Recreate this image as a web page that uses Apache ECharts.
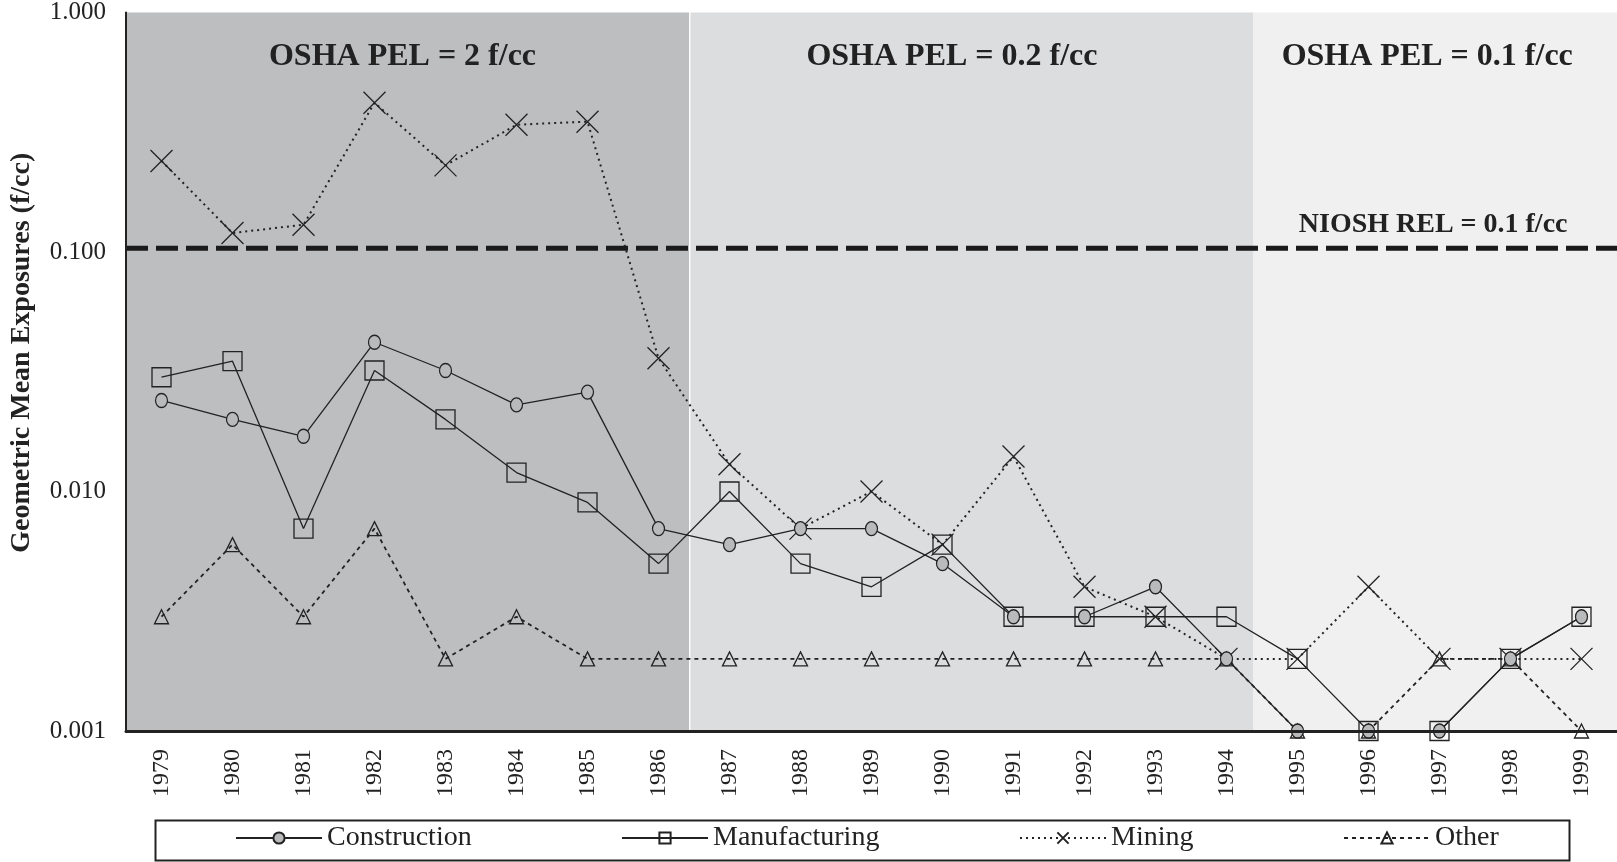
<!DOCTYPE html>
<html>
<head>
<meta charset="utf-8">
<script src="https://cdn.jsdelivr.net/npm/echarts@6/dist/echarts.min.js"></script>
<style>html,body{margin:0;padding:0;background:#fff;}#c{width:1617px;height:862px;}</style>
</head>
<body>
<div id="c"></div>
<script>
const years = ['1979','1980','1981','1982','1983','1984','1985','1986','1987','1988','1989','1990','1991','1992','1993','1994','1995','1996','1997','1998','1999'];
const construction = [0.024,0.020,0.017,0.042,0.032,0.023,0.026,0.007,0.006,0.007,0.007,0.005,0.003,0.003,0.004,0.002,0.001,0.001,0.001,0.002,0.003];
const manufacturing = [0.030,0.035,0.007,0.032,0.020,0.012,0.009,0.005,0.010,0.005,0.004,0.006,0.003,0.003,0.003,0.003,0.002,0.001,0.001,0.002,0.003];
const mining = [0.24,0.12,0.13,0.42,0.23,0.34,0.35,0.036,0.013,0.007,0.010,0.006,0.014,0.004,0.003,0.002,0.002,0.004,0.002,0.002,0.002];
const other = [0.003,0.006,0.003,0.007,0.002,0.003,0.002,0.002,0.002,0.002,0.002,0.002,0.002,0.002,0.002,0.002,0.001,0.001,0.002,0.002,0.001];
const yTicks = ['0.001','0.010','0.100','1.000'];
// regulatory periods, in category-index units (0 = left edge of 1979 slot)
const periodNames = ['OSHA PEL = 2 f/cc','OSHA PEL = 0.2 f/cc','OSHA PEL = 0.1 f/cc'];
const periodFrom = [0, 7.95, 15.88];
const periodTo = [7.93, 15.88, 21];
const nioshName = 'NIOSH REL = 0.1 f/cc';
const nioshValue = 0.1036;
const nioshSpan = [0, 21];

const SERIF = "'Liberation Serif','Times New Roman',serif";
const INK = '#222';
const periodColors = ['#bdbec0','#dcdddf','#f0f0f0'];
const periodOffsets = [-5,-20,-8];

const chart = echarts.init(document.getElementById('c'));

const areaData = periodNames.map((n,i)=>[
  {xAxis: periodFrom[i], name: n, itemStyle:{color: periodColors[i]},
   label:{show:true, position:'insideTop', offset:[periodOffsets[i], 23], formatter: n,
     fontFamily: SERIF, fontWeight:'bold', fontSize: 32, color: INK}},
  {xAxis: periodTo[i]}
]);

function legendAt(name, left){
  return {
    data:[name], left: left, top: 824, padding: 0,
    itemWidth: 86, itemHeight: 14,
    textStyle:{fontFamily: SERIF, fontSize: 28, color: INK},
    selectedMode: false
  };
}

const option = {
  backgroundColor: '#fff',
  animation: false,
  grid: {left: 124, right: 0, top: 12, bottom: 131, containLabel: false},
  xAxis: [
    {type:'category', data: years, boundaryGap: true, z: 10,
     axisLine:{show:true, lineStyle:{color: INK, width: 3}},
     axisTick:{show:false},
     axisLabel:{rotate: 90, margin: 18, fontFamily: SERIF, fontSize: 24, color: INK},
     splitLine:{show:false}},
    {type:'value', min: 0, max: 21, show: false}
  ],
  yAxis: {
    type:'log', logBase: 10, min: 0.001, max: 1, z: 10,
    name: 'Geometric Mean Exposures (f/cc)', nameLocation: 'middle', nameGap: 90,
    nameTextStyle:{fontFamily: SERIF, fontWeight:'bold', fontSize: 28, color: INK, padding:[0,0,0,38]},
    axisLine:{show:true, lineStyle:{color: INK, width: 2}},
    axisTick:{show:false},
    splitLine:{show:false},
    axisLabel:{margin: 20, fontFamily: SERIF, fontSize: 25, color: INK,
      formatter: v => yTicks.find(t => Math.abs(parseFloat(t) - v) < v*0.01) || v.toFixed(3)}
  },
  legend: [
    legendAt('Construction', 235),
    legendAt('Manufacturing', 621),
    legendAt('Mining', 1019),
    legendAt('Other', 1343)
  ],
  graphic: [
    {type:'rect', left: 153, top: 818, shape:{width: 1414, height: 40},
     style:{fill:'none', stroke: INK, lineWidth: 2}, z: 10}
  ],
  series: [
    {type:'line', xAxisIndex: 1, yAxisIndex: 0, data: [], z: 1, silent: true,
     markArea:{silent:true, data: areaData}},
    {name: nioshName, type:'line', xAxisIndex: 1, yAxisIndex: 0, z: 2, silent: true, clip: false,
     symbol:'circle', symbolSize: 1, showSymbol: true, showAllSymbol: true,
     itemStyle:{color:'rgba(0,0,0,0)', borderWidth: 0},
     lineStyle:{color:'#1a1a1a', width: 5, type:[22,8]},
     data: [
       [nioshSpan[0], nioshValue],
       {value:[nioshSpan[1], nioshValue],
        label:{show:true, position:'left', distance: 49, offset:[0,-24], formatter: nioshName,
          fontFamily: SERIF, fontWeight:'bold', fontSize: 28, color: INK}}
     ]},
    {name:'Construction', type:'line', data: construction, z: 6, clip: false,
     showAllSymbol: true, symbol:'circle', symbolSize:[12,14],
     itemStyle:{color:'#b9babc', borderColor: INK, borderWidth: 1.3},
     lineStyle:{color: INK, width: 1.3}},
    {name:'Manufacturing', type:'line', data: manufacturing, z: 5, clip: false,
     showAllSymbol: true, symbol:'rect', symbolSize: 19,
     itemStyle:{color:'rgba(0,0,0,0)', borderColor: INK, borderWidth: 1.3},
     lineStyle:{color: INK, width: 1.3}},
    {name:'Mining', type:'line', data: mining, z: 4, clip: false,
     showAllSymbol: true, symbol:'path://M0,0 L10,10 M10,0 L0,10', symbolSize: 22,
     itemStyle:{color:'rgba(0,0,0,0)', borderColor: INK, borderWidth: 1.3},
     lineStyle:{color: INK, width: 2, type:[2,4]}},
    {name:'Other', type:'line', data: other, z: 3, clip: false,
     showAllSymbol: true, symbol:'triangle', symbolSize: 14,
     itemStyle:{color:'rgba(0,0,0,0)', borderColor: INK, borderWidth: 1.3},
     lineStyle:{color: INK, width: 1.8, type:[4,4]}}
  ]
};
chart.setOption(option);
</script>
</body>
</html>
